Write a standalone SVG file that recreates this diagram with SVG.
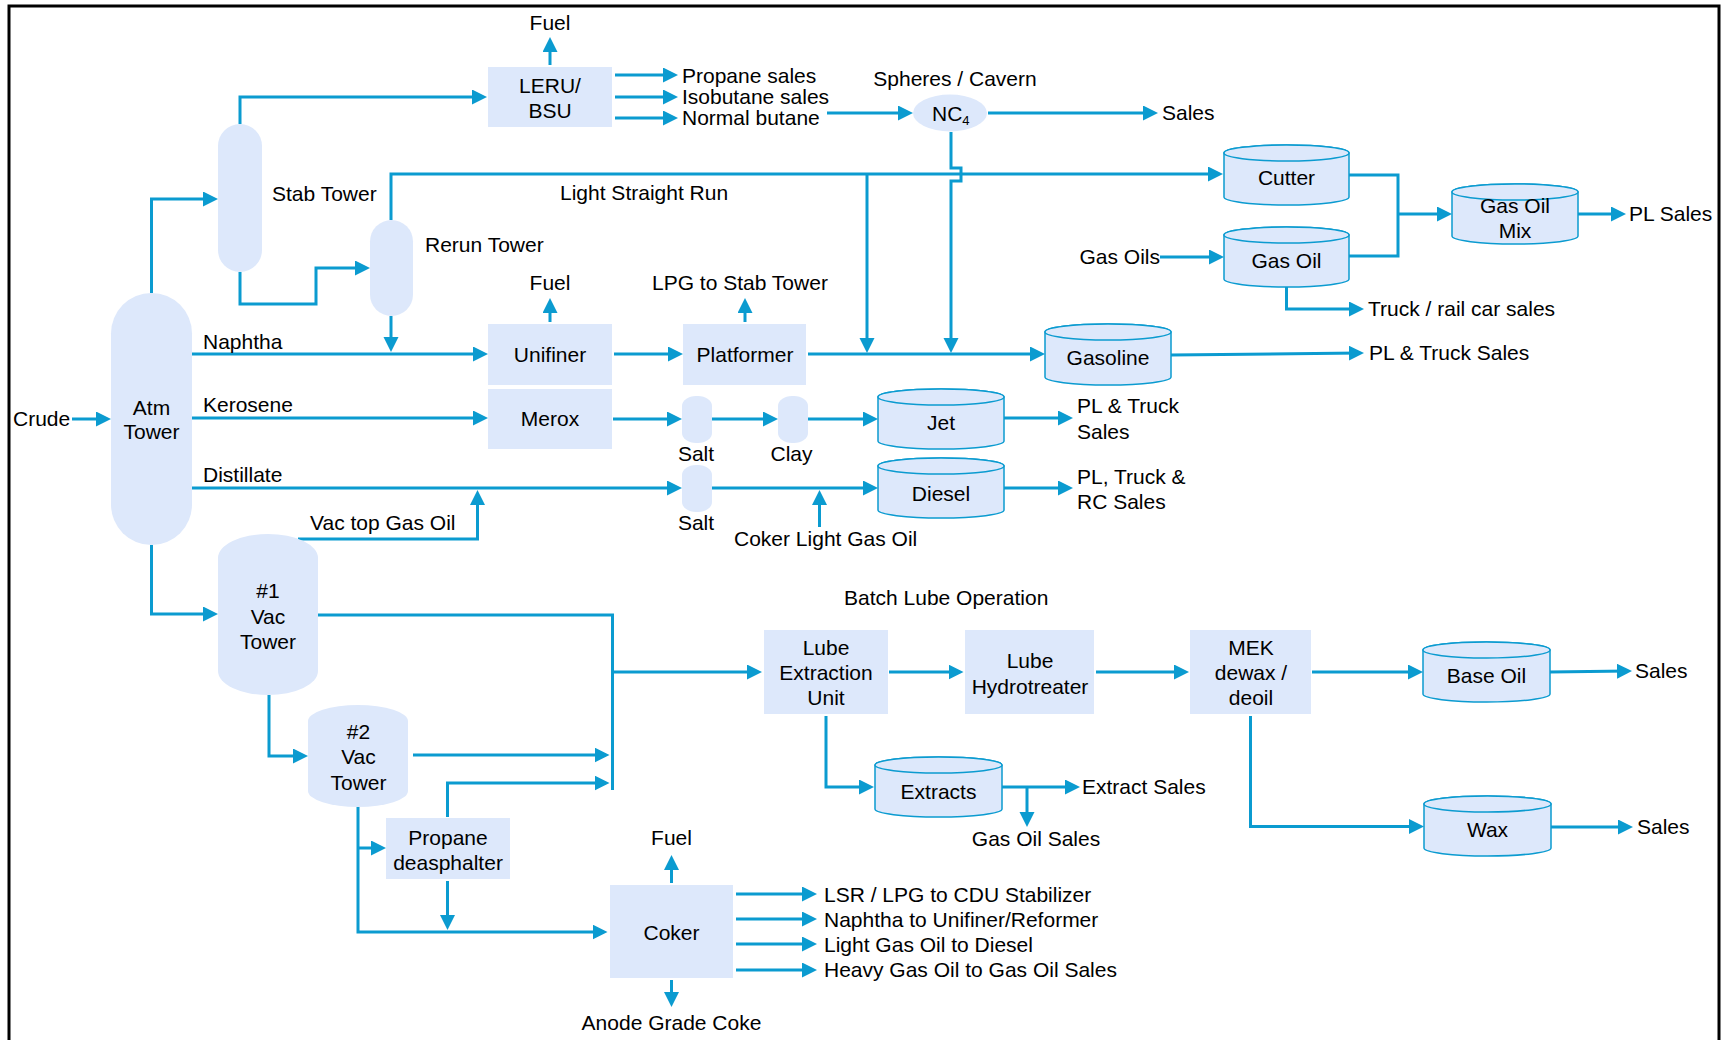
<svg xmlns="http://www.w3.org/2000/svg" width="1722" height="1040" viewBox="0 0 1722 1040">
<defs>
<marker id="ah" markerUnits="userSpaceOnUse" markerWidth="16" markerHeight="16" refX="11" refY="7.5" orient="auto">
<path d="M0,0 L15,7.5 L0,15 Z" fill="#0b9bd0"/>
</marker>
<style>
.c{fill:none;stroke:#0b9bd0;stroke-width:3;marker-end:url(#ah)}
.p{fill:none;stroke:#0b9bd0;stroke-width:3}
.b{fill:#dde8fb}
.t{fill:#dde8fb;stroke:#0b9bd0;stroke-width:1.5}
text{font-family:"Liberation Sans",Arial,sans-serif;font-size:21px;fill:#000}
.m{text-anchor:middle}
.e{text-anchor:end}
</style>
</defs>
<rect x="0" y="0" width="1722" height="1040" fill="#fff"/>
<rect x="9" y="6" width="1710" height="1045" fill="none" stroke="#000" stroke-width="3"/>

<g id="connectors">
<path class="c" d="M72,419 H107"/>
<path class="c" d="M151.5,293 V199 H214"/>
<path class="c" d="M240,124 V97 H483"/>
<path class="c" d="M240,272 V304 H316 V268 H366"/>
<path class="c" d="M550,65 V41"/>
<path class="c" d="M615,75 H674"/>
<path class="c" d="M615,97 H674"/>
<path class="c" d="M615,118 H674"/>
<path class="c" d="M827,113 H909"/>
<path class="c" d="M988,113 H1154"/>
<path class="c" d="M391,220 V174 H1219"/>
<path class="c" d="M867,174 V349"/>
<path class="c" d="M951,132 V168 H961 V181 H951 V349"/>
<path class="c" d="M391,316 V348"/>
<path class="c" d="M192,354 H484"/>
<path class="c" d="M192,418 H484"/>
<path class="c" d="M192,488 H678"/>
<path class="c" d="M298,539 H477.5 V494"/>
<path class="c" d="M550,322 V302"/>
<path class="c" d="M745,322 V302"/>
<path class="c" d="M614,354 H679"/>
<path class="c" d="M808,354 H1041"/>
<path class="c" d="M1171,355 L1360,353"/>
<path class="c" d="M1160,257 H1220"/>
<path class="p" d="M1349,175 H1398 V256 H1349"/>
<path class="c" d="M1398,214 H1448"/>
<path class="c" d="M1578,214 H1622"/>
<path class="c" d="M1286.5,287 V309 H1360"/>
<path class="c" d="M613,419 H678"/>
<path class="c" d="M712,419 H774"/>
<path class="c" d="M808,419 H874"/>
<path class="c" d="M1004,418 H1069"/>
<path class="c" d="M712,488 H874"/>
<path class="c" d="M819.5,527 V494"/>
<path class="c" d="M1004,488 H1069"/>
<path class="c" d="M151.5,545 V614 H214"/>
<path class="p" d="M318,615 H612.5 V790"/>
<path class="c" d="M612.5,672 H758"/>
<path class="c" d="M269,695 V756 H304"/>
<path class="c" d="M413,755 H605.5"/>
<path class="c" d="M447.5,817 V783 H605.5"/>
<path class="c" d="M358,807 V932 H603.5"/>
<path class="c" d="M358,848 H382"/>
<path class="c" d="M447.5,881 V926"/>
<path class="c" d="M671.5,883 V859"/>
<path class="c" d="M671.5,980 V1003"/>
<path class="c" d="M736,894 H813"/>
<path class="c" d="M736,919 H813"/>
<path class="c" d="M736,944 H813"/>
<path class="c" d="M736,970 H813"/>
<path class="c" d="M889,672 H959.5"/>
<path class="c" d="M1096,672 H1185"/>
<path class="c" d="M1312,672 H1419"/>
<path class="c" d="M1550,672 L1628,671"/>
<path class="c" d="M1250.5,716 V826.5 H1420"/>
<path class="c" d="M1551,827 H1629"/>
<path class="c" d="M826,716 V787 H870"/>
<path class="c" d="M1002,787 H1076"/>
<path class="c" d="M1027,787 V823"/>
</g>

<g id="labels">
<text class="m" x="550" y="30">Fuel</text>
<text x="682" y="83">Propane sales</text>
<text x="682" y="104">Isobutane sales</text>
<text x="682" y="125">Normal butane</text>
<text class="m" x="955" y="86">Spheres / Cavern</text>
<text x="1162" y="120">Sales</text>
<text x="272" y="201">Stab Tower</text>
<text x="425" y="252">Rerun Tower</text>
<text x="560" y="200">Light Straight Run</text>
<text class="m" x="550" y="290">Fuel</text>
<text x="652" y="290">LPG to Stab Tower</text>
<text x="13" y="426">Crude</text>
<text x="203" y="349">Naphtha</text>
<text x="203" y="412">Kerosene</text>
<text x="203" y="482">Distillate</text>
<text x="1369" y="360">PL &amp; Truck Sales</text>
<text class="e" x="1160" y="264">Gas Oils</text>
<text x="1629" y="221">PL Sales</text>
<text x="1368" y="316">Truck / rail car sales</text>
<text class="m" x="696" y="461">Salt</text>
<text class="m" x="791.5" y="461">Clay</text>
<text x="1077" y="413">PL &amp; Truck</text>
<text x="1077" y="439">Sales</text>
<text x="310" y="530">Vac top Gas Oil</text>
<text class="m" x="696" y="530">Salt</text>
<text x="734" y="546">Coker Light Gas Oil</text>
<text x="1077" y="484">PL, Truck &amp;</text>
<text x="1077" y="509">RC Sales</text>
<text x="844" y="605">Batch Lube Operation</text>
<text x="1635" y="678">Sales</text>
<text x="1637" y="834">Sales</text>
<text x="1082" y="794">Extract Sales</text>
<text class="m" x="1036" y="846">Gas Oil Sales</text>
<text class="m" x="671.5" y="845">Fuel</text>
<text class="m" x="671.5" y="1030">Anode Grade Coke</text>
<text x="824" y="901.5">LSR / LPG to CDU Stabilizer</text>
<text x="824" y="926.5">Naphtha to Unifiner/Reformer</text>
<text x="824" y="951.5">Light Gas Oil to Diesel</text>
<text x="824" y="977">Heavy Gas Oil to Gas Oil Sales</text>
</g>

<g id="leru">
<rect class="b" x="488" y="67" width="124" height="60"/>
<text class="m" x="550" y="93">LERU/</text>
<text class="m" x="550" y="118">BSU</text>
</g>
<g id="nc4">
<ellipse class="b" cx="950" cy="113" rx="37" ry="18.5"/>
<text x="932" y="121">NC<tspan font-size="13" dy="4">4</tspan></text>
</g>
<g id="stab-tower">
<rect class="b" x="218" y="124" width="44" height="148" rx="22" ry="22"/>
</g>
<g id="rerun-tower">
<rect class="b" x="370" y="220" width="43" height="96" rx="21.5" ry="21.5"/>
</g>
<g id="atm-tower">
<rect class="b" x="111" y="293" width="81" height="252" rx="40.5" ry="40.5"/>
<text class="m" x="151.5" y="415">Atm</text>
<text class="m" x="151.5" y="439">Tower</text>
</g>
<g id="unifiner">
<rect class="b" x="488" y="324" width="124" height="61"/>
<text class="m" x="550" y="362">Unifiner</text>
</g>
<g id="merox">
<rect class="b" x="488" y="389" width="124" height="60"/>
<text class="m" x="550" y="426">Merox</text>
</g>
<g id="platformer">
<rect class="b" x="683" y="324" width="123" height="61"/>
<text class="m" x="745" y="362">Platformer</text>
</g>
<g id="gasoline">
<path class="t" d="M1045,332 A63,8 0 0 1 1171,332 V377 A63,8 0 0 1 1045,377 Z"/>
<ellipse class="t" cx="1108" cy="332" rx="63" ry="8"/>
<text class="m" x="1108" y="365">Gasoline</text>
</g>
<g id="cutter">
<path class="t" d="M1224,153 A62.5,8 0 0 1 1349,153 V197 A62.5,8 0 0 1 1224,197 Z"/>
<ellipse class="t" cx="1286.5" cy="153" rx="62.5" ry="8"/>
<text class="m" x="1286.5" y="185">Cutter</text>
</g>
<g id="gas-oil">
<path class="t" d="M1224,235 A62.5,8 0 0 1 1349,235 V279 A62.5,8 0 0 1 1224,279 Z"/>
<ellipse class="t" cx="1286.5" cy="235" rx="62.5" ry="8"/>
<text class="m" x="1286.5" y="267.5">Gas Oil</text>
</g>
<g id="gas-oil-mix">
<path class="t" d="M1452,192 A63,8 0 0 1 1578,192 V236 A63,8 0 0 1 1452,236 Z"/>
<ellipse class="t" cx="1515" cy="192" rx="63" ry="8"/>
<text class="m" x="1515" y="212.5">Gas Oil</text>
<text class="m" x="1515" y="237.5">Mix</text>
</g>
<g id="salt1">
<rect class="b" x="682" y="396" width="30" height="47" rx="14" ry="10"/>
</g>
<g id="clay">
<rect class="b" x="778" y="396" width="30" height="47" rx="14" ry="10"/>
</g>
<g id="salt2">
<rect class="b" x="682" y="465" width="30" height="47" rx="14" ry="10"/>
</g>
<g id="jet">
<path class="t" d="M878,397 A63,8 0 0 1 1004,397 V441 A63,8 0 0 1 878,441 Z"/>
<ellipse class="t" cx="941" cy="397" rx="63" ry="8"/>
<text class="m" x="941" y="429.5">Jet</text>
</g>
<g id="diesel">
<path class="t" d="M878,466 A63,8 0 0 1 1004,466 V510 A63,8 0 0 1 878,510 Z"/>
<ellipse class="t" cx="941" cy="466" rx="63" ry="8"/>
<text class="m" x="941" y="500.5">Diesel</text>
</g>
<g id="vac1">
<rect class="b" x="218" y="534" width="100" height="161" rx="50" ry="24"/>
<text class="m" x="268" y="597.5">#1</text>
<text class="m" x="268" y="623.5">Vac</text>
<text class="m" x="268" y="648.5">Tower</text>
</g>
<g id="vac2">
<rect class="b" x="308" y="705" width="100" height="102" rx="50" ry="16"/>
<text class="m" x="358.5" y="738.5">#2</text>
<text class="m" x="358.5" y="763.5">Vac</text>
<text class="m" x="358.5" y="789.5">Tower</text>
</g>
<g id="propane-deasphalter">
<rect class="b" x="386" y="818" width="124" height="61"/>
<text class="m" x="448" y="844.5">Propane</text>
<text class="m" x="448" y="869.5">deasphalter</text>
</g>
<g id="coker">
<rect class="b" x="610" y="885" width="123" height="93"/>
<text class="m" x="671.5" y="939.5">Coker</text>
</g>
<g id="lube-extraction">
<rect class="b" x="764" y="630" width="124" height="84"/>
<text class="m" x="826" y="654.5">Lube</text>
<text class="m" x="826" y="680">Extraction</text>
<text class="m" x="826" y="704.5">Unit</text>
</g>
<g id="lube-hydrotreater">
<rect class="b" x="965" y="630" width="129" height="84"/>
<text class="m" x="1030" y="667.5">Lube</text>
<text class="m" x="1030" y="693.5">Hydrotreater</text>
</g>
<g id="mek">
<rect class="b" x="1190" y="630" width="121" height="84"/>
<text class="m" x="1251" y="654.5">MEK</text>
<text class="m" x="1251" y="680">dewax /</text>
<text class="m" x="1251" y="704.5">deoil</text>
</g>
<g id="base-oil">
<path class="t" d="M1423,650 A63.5,8 0 0 1 1550,650 V694 A63.5,8 0 0 1 1423,694 Z"/>
<ellipse class="t" cx="1486.5" cy="650" rx="63.5" ry="8"/>
<text class="m" x="1486.5" y="682.5">Base Oil</text>
</g>
<g id="wax">
<path class="t" d="M1424,804 A63.5,8 0 0 1 1551,804 V848 A63.5,8 0 0 1 1424,848 Z"/>
<ellipse class="t" cx="1487.5" cy="804" rx="63.5" ry="8"/>
<text class="m" x="1487.5" y="836.5">Wax</text>
</g>
<g id="extracts">
<path class="t" d="M875,765 A63.5,8 0 0 1 1002,765 V809 A63.5,8 0 0 1 875,809 Z"/>
<ellipse class="t" cx="938.5" cy="765" rx="63.5" ry="8"/>
<text class="m" x="938.5" y="798.5">Extracts</text>
</g>
</svg>
